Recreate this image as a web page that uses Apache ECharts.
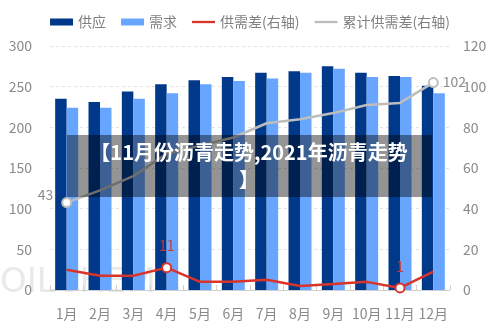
<!DOCTYPE html>
<html>
<head>
<meta charset="utf-8">
<style>
  html, body { margin: 0; padding: 0; background: #ffffff; }
  #chart { width: 500px; height: 333px; }
</style>
<script src="https://cdn.jsdelivr.net/npm/echarts@6/dist/echarts.min.js"></script>
</head>
<body>
<div id="chart"></div>
<script>
// Monthly asphalt supply / demand (left axis) and balance (right axis)
const months = ['1月', '2月', '3月', '4月', '5月', '6月', '7月', '8月', '9月', '10月', '11月', '12月'];
const supply = [235, 231, 244, 253, 258, 262, 267, 269, 275, 267, 263, 251];
const demand = [224, 224, 235, 242, 253, 257, 260, 267, 272, 262, 262, 242];
const gap = [10, 7, 7, 11, 4, 4, 5, 2, 3, 4, 1, 9];
const cumulativeGap = [43, 49, 56, 67, 71, 75, 82, 84, 87, 91, 92, 102];

// Only these points carry a marker and a value label
const gapLabelled = [3, 10];
const cumLabelled = [0, 11];

const FONT = '"Noto Sans CJK SC", "Noto Sans", sans-serif';
const AXIS_TEXT = '#8a8a8a';
const LINE_ICON = 'path://M0,0H20V2H0Z';

function markPoints(values, labelled, labelCfg, color) {
  return values.map((v, i) => {
    if (labelled.indexOf(i) < 0) return { value: v };
    const cfg = typeof labelCfg === 'function' ? labelCfg(i) : labelCfg;
    return {
      value: v,
      symbol: 'circle',
      symbolSize: 9,
      itemStyle: { color: '#ffffff', borderColor: color, borderWidth: 2 },
      label: Object.assign({ show: true, color: color, fontSize: 14, fontFamily: FONT }, cfg)
    };
  });
}

const chart = echarts.init(document.getElementById('chart'), null, { renderer: 'canvas' });

chart.setOption({
  animation: false,
  backgroundColor: '#ffffff',
  textStyle: { fontFamily: FONT },
  legend: {
    top: 10,
    left: 'center',
    itemWidth: 23,
    itemHeight: 7,
    itemGap: 15,
    textStyle: { color: '#808080', fontSize: 14, fontFamily: FONT },
    data: [
      { name: '供应', icon: 'rect' },
      { name: '需求', icon: 'rect' },
      { name: '供需差(右轴)', icon: LINE_ICON },
      { name: '累计供需差(右轴)', icon: LINE_ICON }
    ]
  },
  grid: { left: 50, right: 50, top: 46, bottom: 43, containLabel: false },
  xAxis: {
    type: 'category',
    data: months,
    axisLine: { lineStyle: { color: '#cfcfcf', width: 1 } },
    axisTick: { show: true, inside: true, length: 5, lineStyle: { color: '#cfcfcf' } },
    axisLabel: { color: AXIS_TEXT, fontSize: 14, margin: 17, fontFamily: FONT, interval: 0 }
  },
  yAxis: [
    {
      type: 'value', min: 0, max: 300, interval: 50,
      axisLine: { show: false }, axisTick: { show: false },
      axisLabel: { color: AXIS_TEXT, fontSize: 14, margin: 18, fontFamily: FONT },
      splitLine: { lineStyle: { color: '#e2e2e2', type: [3, 3] } }
    },
    {
      type: 'value', min: 0, max: 120, interval: 20,
      axisLine: { show: false }, axisTick: { show: false },
      axisLabel: { color: AXIS_TEXT, fontSize: 14, margin: 13, fontFamily: FONT },
      splitLine: { show: false }
    }
  ],
  series: [
    {
      name: '供应', type: 'bar', data: supply, yAxisIndex: 0,
      barWidth: 11.5, barGap: '0%',
      itemStyle: { color: '#00388a' }, z: 2
    },
    {
      name: '需求', type: 'bar', data: demand, yAxisIndex: 0,
      barWidth: 11.5,
      itemStyle: { color: '#68a5ff' }, z: 2
    },
    {
      name: '供需差(右轴)', type: 'line', yAxisIndex: 1,
      data: markPoints(gap, gapLabelled, { position: 'top', distance: 9, color: '#d0362a' }, '#d9342a'),
      symbol: 'none',
      lineStyle: { color: '#d9342a', width: 2.5 },
      itemStyle: { color: '#d9342a' },
      z: 5
    },
    {
      name: '累计供需差(右轴)', type: 'line', yAxisIndex: 1,
      data: markPoints(cumulativeGap, cumLabelled, i => i === 0
        ? { position: 'left', distance: 6, offset: [-2, -8], color: '#8c8c8c' }
        : { position: 'right', distance: 4, offset: [0, -1], color: '#8c8c8c' }, '#bdbdbd'),
      symbol: 'none',
      lineStyle: { color: '#bdbdbd', width: 2.5 },
      itemStyle: { color: '#bdbdbd' },
      z: 5
    }
  ],
  graphic: [
    {
      // faint brand mark in the lower left, behind the bars
      type: 'text', left: 0, top: 266, z: -1, silent: true,
      style: {
        text: 'OILCHEM', fill: 'rgba(200,200,200,0.4)',
        font: '34px "DejaVu Sans", sans-serif'
      }
    },
    {
      // caption banner across the middle of the plot
      type: 'rect', left: 67, top: 135, z: 100, zlevel: 1, silent: true,
      shape: { width: 365, height: 62 },
      style: { fill: 'rgba(0,0,0,0.42)' }
    },
    {
      type: 'text', z: 101, zlevel: 1, silent: true,
      x: 249, y: 166,
      style: {
        text: '【11月份沥青走势,2021年沥青走势\n】',
        fill: '#ffffff', align: 'center', verticalAlign: 'middle',
        font: 'bold 20px "Noto Sans CJK SC", sans-serif', lineHeight: 27
      }
    }
  ]
});
</script>
</body>
</html>
